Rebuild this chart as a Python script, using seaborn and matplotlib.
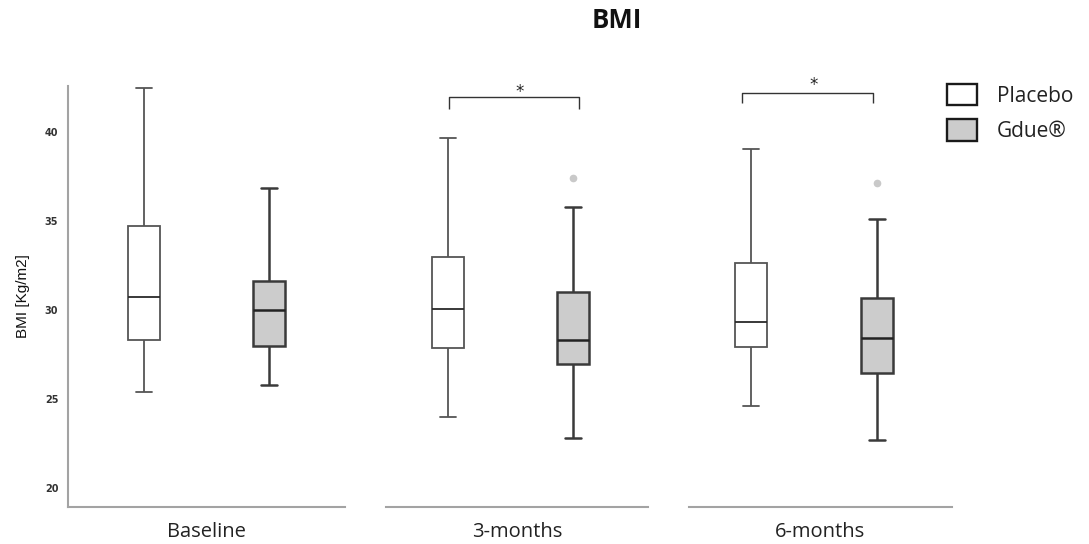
import numpy as np
import pandas as pd
import matplotlib
matplotlib.use("Agg")
import matplotlib.pyplot as plt
import seaborn as sns
from matplotlib.patches import Patch

# ---------------- data ----------------
timepoints = ["Baseline", "3-months", "6-months"]
groups = ["Placebo", "Gdue®"]

placebo_low = [25.39, 24.00, 24.60]
placebo_q1 = [28.32, 27.87, 27.91]
placebo_median = [30.72, 30.03, 29.30]
placebo_q3 = [34.72, 32.95, 32.63]
placebo_high = [42.45, 39.62, 39.02]
placebo_outliers = [[], [], []]

gdue_low = [25.80, 22.79, 22.69]
gdue_q1 = [27.97, 26.94, 26.44]
gdue_median = [29.97, 28.31, 28.42]
gdue_q3 = [31.60, 31.00, 30.65]
gdue_high = [36.82, 35.79, 35.10]
gdue_outliers = [[], [37.41], [37.10]]

yticks = [20, 25, 30, 35, 40]
significance = ["", "*", "*"]

# Build rows whose quartiles/whiskers reproduce the summary values above
rows = []
stats = {
    "Placebo": (placebo_low, placebo_q1, placebo_median, placebo_q3, placebo_high, placebo_outliers),
    "Gdue®": (gdue_low, gdue_q1, gdue_median, gdue_q3, gdue_high, gdue_outliers),
}
for g, (lo, q1, md, q3, hi, out) in stats.items():
    for i, tp in enumerate(timepoints):
        vals = [lo[i], q1[i], q1[i], md[i], md[i], q3[i], q3[i], hi[i]] + list(out[i])
        for v in vals:
            rows.append({"time": tp, "group": g, "value": v})
df = pd.DataFrame(rows)

# ---------------- style ----------------
sns.set_style("white")
plt.rcParams["font.family"] = ["Open Sans", "DejaVu Sans"]

W, H = 1089, 544
fig = plt.figure(figsize=(W / 100, H / 100), dpi=100)

ax_bottom_px, ax_top_px = 507, 86
seg_px = [(68, 345), (386, 648), (689, 952)]
xlims = [(-0.456, 0.456), (-0.41, 0.452), (-0.41, 0.452)]
ylim = (18.93, 42.56)

palette = {"Placebo": "#ffffff", "Gdue®": "#cccccc"}
line_style = {
    "Placebo": dict(linecolor="#555555", linewidth=1.3, median="#2a2a2a"),
    "Gdue®": dict(linecolor="#3a3a3a", linewidth=1.8, median="#222222"),
}
spine_color = "#a3a3a3"

axes = []
for i, tp in enumerate(timepoints):
    x0, x1 = seg_px[i]
    ax = fig.add_axes([x0 / W, 1 - ax_bottom_px / H, (x1 - x0) / W, (ax_bottom_px - ax_top_px) / H])
    axes.append(ax)
    sub = df[df["time"] == tp]
    for g in groups:
        st = line_style[g]
        sns.boxplot(
            data=sub[sub["group"] == g], x="time", y="value", hue="group",
            order=[tp], hue_order=groups, palette=palette, dodge=True,
            width=0.822, gap=0.745, linecolor=st["linecolor"], linewidth=st["linewidth"],
            medianprops=dict(color=st["median"], linewidth=st["linewidth"]),
            flierprops=dict(marker="o", markerfacecolor="#c9c9c9", markeredgecolor="#c9c9c9",
                            markersize=4.5),
            legend=False, ax=ax,
        )
    ax.set_xlim(*xlims[i])
    ax.set_ylim(*ylim)
    ax.set_xticks([])
    ax.set_xlabel(tp, fontsize=14.5, color="#222222", labelpad=11)
    for s in ["top", "right"]:
        ax.spines[s].set_visible(False)
    ax.spines["bottom"].set_color(spine_color)
    ax.spines["bottom"].set_linewidth(1.5)
    if i == 0:
        ax.spines["left"].set_color(spine_color)
        ax.spines["left"].set_linewidth(1.5)
        ax.set_yticks(yticks)
        ax.set_yticklabels([str(t) for t in yticks], fontsize=7, fontweight="bold",
                           family="DejaVu Sans", color="#333333")
        ax.tick_params(axis="y", length=0, pad=7)
        ax.set_ylabel("BMI [Kg/m2]", fontsize=11, family="Liberation Sans",
                      color="#111111", labelpad=11)
    else:
        ax.spines["left"].set_visible(False)
        ax.set_yticks([])
        ax.set_ylabel("")

# significance brackets (annotation)
brackets = {1: (-0.202, 0.225, 41.29, 41.93, 0.031, 41.97),
            2: (-0.237, 0.193, 41.62, 42.18, -0.002, 42.33)}
for i, (xa, xb, yb, yt, xs, ys) in brackets.items():
    ax = axes[i]
    ax.plot([xa, xa, xb, xb], [yb, yt, yt, yb], color="#333333", lw=1.0,
            clip_on=False, solid_capstyle="butt")
    ax.text(xs, ys, significance[i], ha="center", va="baseline", fontsize=12,
            family="DejaVu Sans", color="#222222")

# title
fig.text(617 / W, 1 - 20 / H, "BMI", ha="center", va="center", fontsize=18.5,
         fontweight="bold", color="#111111")

# legend
handles = [Patch(facecolor=palette[g], edgecolor="#1a1a1a", linewidth=1.7) for g in groups]
fs = 15
fig.legend(handles, groups, loc="upper left", bbox_to_anchor=(947 / W, 1 - 84 / H),
           frameon=False, fontsize=fs, handlelength=1.44, handleheight=1.2,
           handletextpad=0.96, labelspacing=0.6, borderpad=0, borderaxespad=0,
           labelcolor="#222222")

fig.savefig("out.png", dpi=100)
